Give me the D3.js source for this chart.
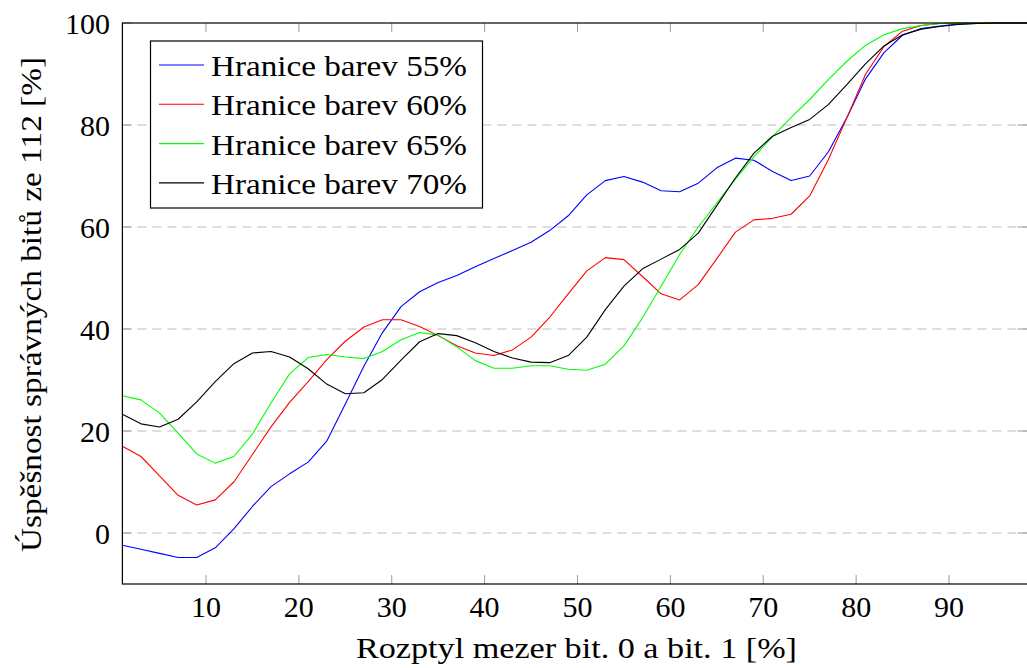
<!DOCTYPE html>
<html>
<head>
<meta charset="utf-8">
<script src="https://cdn.jsdelivr.net/npm/d3@7"></script>
<style>
  body { margin: 0; background: #fff; }
  svg { display: block; }
</style>
</head>
<body>
<div id="chart"></div>
<script>
// x = rozptyl mezer (%)
var rozptyl = [1, 3, 5, 7, 9, 11, 13, 15, 17, 19, 21, 23, 25, 27, 29, 31, 33, 35, 37, 39,
  41, 43, 45, 47, 49, 51, 53, 55, 57, 59, 61, 63, 65, 67, 69, 71, 73, 75, 77, 79,
  81, 83, 85, 87, 89, 91, 93, 95, 97, 99];

var hranice55 = [-2.4, -3.2, -4.0, -4.8, -4.8, -2.9, 0.8, 5.2, 9.1, 11.6, 13.9, 18.0, 25.3, 32.7, 39.3, 44.4, 47.3, 49.1, 50.5, 52.2,
  53.8, 55.4, 57.0, 59.3, 62.2, 66.3, 69.1, 69.9, 68.8, 67.1, 66.9, 68.6, 71.6, 73.5, 73.1, 70.9, 69.1, 70.0, 74.7, 81.4,
  89.0, 94.2, 97.6, 98.9, 99.4, 99.8, 99.9, 100, 100, 100];

var hranice60 = [17.0, 15.0, 11.2, 7.4, 5.5, 6.5, 10.0, 15.4, 20.8, 25.6, 29.7, 34.0, 37.6, 40.4, 41.8, 41.8, 40.5, 38.7, 36.7, 35.3,
  34.8, 35.9, 38.4, 42.3, 46.9, 51.4, 54.0, 53.6, 50.3, 46.9, 45.7, 48.7, 53.8, 59.0, 61.4, 61.7, 62.5, 66.1, 73.2, 81.4,
  89.9, 95.4, 98.4, 99.5, 99.9, 100, 100, 100, 100, 100];

var hranice65 = [26.9, 26.1, 23.5, 19.6, 15.5, 13.7, 15.0, 19.4, 25.5, 31.2, 34.4, 35.0, 34.5, 34.2, 35.6, 37.9, 39.3, 38.8, 36.5, 33.8,
  32.3, 32.3, 32.8, 32.8, 32.1, 31.9, 33.1, 36.7, 42.2, 48.4, 54.6, 60.0, 64.7, 69.4, 73.8, 77.7, 81.5, 85.0, 88.9, 92.5,
  95.6, 97.7, 98.9, 99.5, 99.9, 100, 100, 100, 100, 100];

var hranice70 = [23.3, 21.4, 20.8, 22.3, 25.7, 29.7, 33.2, 35.3, 35.6, 34.5, 32.2, 29.2, 27.3, 27.5, 30.1, 33.9, 37.5, 39.1, 38.7, 37.3,
  35.6, 34.3, 33.5, 33.4, 34.8, 38.4, 43.8, 48.4, 51.8, 53.7, 55.6, 58.8, 64.2, 69.6, 74.5, 77.8, 79.5, 81.1, 84.0, 87.9,
  92.0, 95.5, 97.7, 98.8, 99.3, 99.7, 99.9, 100, 100, 100];

var seriesNames = ["Hranice barev 55%", "Hranice barev 60%", "Hranice barev 65%", "Hranice barev 70%"];
var seriesColors = ["#0000ff", "#ff0000", "#00ff00", "#000000"];
var xTicks = [10, 20, 30, 40, 50, 60, 70, 80, 90];
var yTicks = [0, 20, 40, 60, 80, 100];

(function () {
  var width = 1027;
  var height = 668;
  var plotL = 122.4, plotR = 1032.6, plotT = 23, plotB = 584;
  var serif = "Liberation Serif, DejaVu Serif, serif";

  var svg = d3.select("#chart").append("svg")
    .attr("width", width)
    .attr("height", height)
    .attr("font-family", serif);

  var x = d3.scaleLinear().domain([1, 99]).range([plotL, plotR]);
  var y = d3.scaleLinear().domain([-10, 100]).range([plotB, plotT]);

  // dashed grid
  svg.append("g")
    .selectAll("line")
    .data(yTicks.filter(function (d) { return d < 100; }))
    .enter()
    .append("line")
    .attr("x1", plotL)
    .attr("x2", plotR)
    .attr("y1", function (d) { return y(d); })
    .attr("y2", function (d) { return y(d); })
    .attr("stroke", "#bdbdbd")
    .attr("stroke-width", 1)
    .attr("stroke-dasharray", "9,6");

  // ticks (inside, both sides)
  var tickLen = 9;
  var tickG = svg.append("g").attr("stroke", "#9a9a9a").attr("stroke-width", 1);
  xTicks.forEach(function (t) {
    tickG.append("line").attr("x1", x(t)).attr("x2", x(t)).attr("y1", plotB).attr("y2", plotB - tickLen);
    tickG.append("line").attr("x1", x(t)).attr("x2", x(t)).attr("y1", plotT).attr("y2", plotT + tickLen);
  });
  yTicks.forEach(function (t) {
    tickG.append("line").attr("x1", plotL).attr("x2", plotL + tickLen).attr("y1", y(t)).attr("y2", y(t));
    tickG.append("line").attr("x1", plotR - tickLen - 6).attr("x2", plotR).attr("y1", y(t)).attr("y2", y(t));
  });

  // data lines
  var allSeries = [hranice55, hranice60, hranice65, hranice70];
  var line = d3.line()
    .x(function (d, i) { return x(rozptyl[i]); })
    .y(function (d) { return y(d); });

  svg.append("g")
    .selectAll("path")
    .data(allSeries)
    .enter()
    .append("path")
    .attr("d", line)
    .attr("fill", "none")
    .attr("stroke", function (d, i) { return seriesColors[i]; })
    .attr("stroke-width", 1.1)
    .attr("stroke-linejoin", "round");

  // frame
  svg.append("rect")
    .attr("x", plotL)
    .attr("y", plotT)
    .attr("width", plotR - plotL)
    .attr("height", plotB - plotT)
    .attr("fill", "none")
    .attr("stroke", "#000")
    .attr("stroke-width", 1.2);

  // tick labels
  svg.append("g")
    .selectAll("text")
    .data(xTicks)
    .enter()
    .append("text")
    .style("font-family", serif)
    .attr("x", function (d) { return x(d); })
    .attr("y", 617)
    .attr("text-anchor", "middle")
    .attr("font-size", 30)
    .text(function (d) { return d; });

  svg.append("g")
    .selectAll("text")
    .data(yTicks)
    .enter()
    .append("text")
    .style("font-family", serif)
    .attr("x", 110)
    .attr("y", function (d) { return y(d) + 10.5; })
    .attr("text-anchor", "end")
    .attr("font-size", 30)
    .text(function (d) { return d; });

  // axis titles
  svg.append("text")
    .style("font-family", serif)
    .attr("x", 356)
    .attr("y", 658)
    .attr("font-size", 30)
    .attr("textLength", 441)
    .attr("lengthAdjust", "spacingAndGlyphs")
    .text("Rozptyl mezer bit. 0 a bit. 1 [%]");

  svg.append("text")
    .style("font-family", serif)
    .attr("transform", "translate(41,552) rotate(-90)")
    .attr("font-size", 30)
    .attr("textLength", 495)
    .attr("lengthAdjust", "spacingAndGlyphs")
    .text("Úspěšnost správných bitů ze 112 [%]");

  // legend
  var legend = svg.append("g");
  legend.append("rect")
    .attr("x", 150.5)
    .attr("y", 41)
    .attr("width", 332)
    .attr("height", 167)
    .attr("fill", "#fff")
    .attr("stroke", "#000")
    .attr("stroke-width", 1.2);

  var rowY = function (i) { return 65 + i * 39.3; };
  seriesNames.forEach(function (name, i) {
    legend.append("line")
      .attr("x1", 159)
      .attr("x2", 204)
      .attr("y1", rowY(i))
      .attr("y2", rowY(i))
      .attr("stroke", seriesColors[i])
      .attr("stroke-width", 1.1);
    legend.append("text")
      .style("font-family", serif)
      .attr("x", 211)
      .attr("y", rowY(i) + 11)
      .attr("font-size", 30)
      .attr("textLength", 256)
      .attr("lengthAdjust", "spacingAndGlyphs")
      .text(name);
  });
})();
</script>
</body>
</html>
